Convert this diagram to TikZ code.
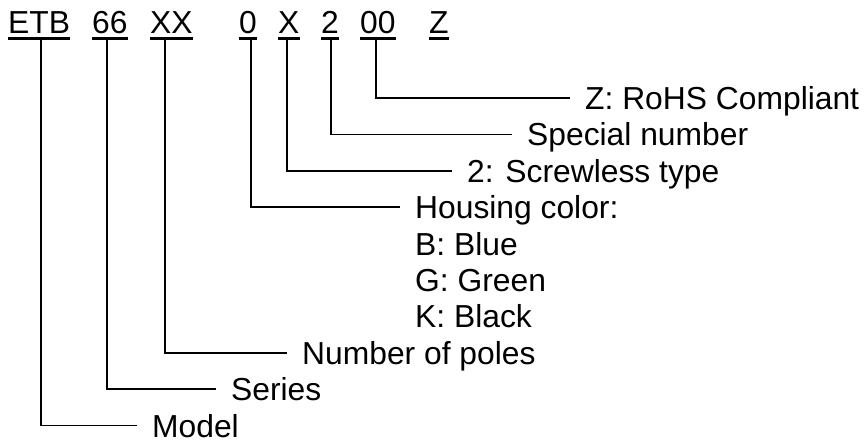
\documentclass[tikz,border=0pt]{standalone}
\usepackage{fontspec}
\setmainfont{Liberation Sans}
\begin{document}
\begin{tikzpicture}[x=1pt,y=-1pt,
  every node/.style={font=\fontsize{31.8}{36}\selectfont},
  code/.style={inner sep=0pt, anchor=base west},
  lab/.style={anchor=west, inner xsep=15pt, inner ysep=0pt, text height=22.8pt, text depth=0pt},
  conn/.style={line width=1.7pt},
  uline/.style={line width=2.2pt}]
\useasboundingbox (0,0) rectangle (866,442);
% code letters
\node[code] (cE) at (8,33) {ETB};
\node[code] (c6) at (92,33) {66};
\node[code] (cXX) at (150,33) {XX};
\node[code] (c0) at (239,33) {0};
\node[code] (cX) at (278,33) {X};
\node[code] (c2) at (321,33) {2};
\node[code] (c00) at (360,33) {00};
\node[code] (cZ) at (429,33) {Z};
\foreach \n in {cE,c6,cXX,c0,cX,c2,c00,cZ}
  \draw[uline] ([yshift=-5.5pt]\n.base west) -- ([yshift=-5.5pt]\n.base east);
% connector starts
\coordinate (pE) at (41,38.5);
\coordinate (p6) at (107,38.5);
\coordinate (pXX) at (165,38.5);
\coordinate (p0) at (251,38.5);
\coordinate (pX) at (287,38.5);
\coordinate (p2) at (331,38.5);
\coordinate (p00) at (376,38.5);
% labels
\node[lab] (rohs) at (570,98) {Z: RoHS Compliant};
\node[lab] (spec) at (512,134.4) {Special number};
\node[lab] (screw) at (452,170.8) {2: Screwless type};
\node[lab] (hc) at (400,207.2) {Housing color:};
\node[lab] (hb) at (400,243.6) {B: Blue};
\node[lab] (hg) at (400,280) {G: Green};
\node[lab] (hk) at (400,316.4) {K: Black};
\node[lab] (poles) at (287,352.8) {Number of poles};
\node[lab] (series) at (216,389.2) {Series};
\node[lab] (model) at (137,425.6) {Model};
% connectors
\draw[conn] (p00) |- (rohs.west);
\draw[conn] (p2) |- (spec.west);
\draw[conn] (pX) |- (screw.west);
\draw[conn] (p0) |- (hc.west);
\draw[conn] (pXX) |- (poles.west);
\draw[conn] (p6) |- (series.west);
\draw[conn] (pE) |- (model.west);
\end{tikzpicture}
\end{document}
